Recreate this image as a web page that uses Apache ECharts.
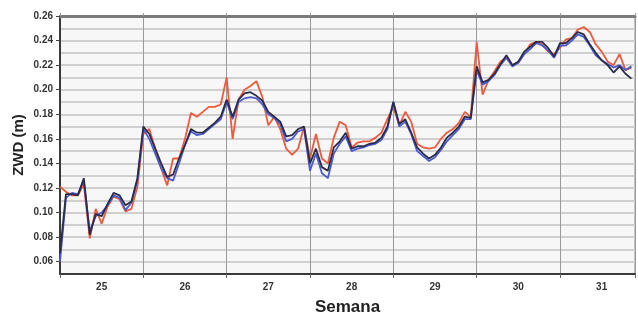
<!DOCTYPE html>
<html>
<head>
<meta charset="utf-8">
<script src="https://cdn.jsdelivr.net/npm/echarts@6/dist/echarts.min.js"></script>
<style>
  html, body { margin: 0; padding: 0; background: #ffffff; }
  #chart { width: 638px; height: 321px; }
</style>
</head>
<body>
<div id="chart"></div>
<script>
// Tiempo en días desde el inicio de la semana 25 (una muestra cada 12 h)
const dias = [
  0, 0.5, 1, 1.5, 2, 2.5, 3, 3.5, 4, 4.5, 5, 5.5, 6, 6.5,
  7, 7.5, 8, 8.5, 9, 9.5, 10, 10.5, 11, 11.5, 12, 12.5, 13, 13.5,
  14, 14.5, 15, 15.5, 16, 16.5, 17, 17.5, 18, 18.5, 19, 19.5, 20, 20.5,
  21, 21.5, 22, 22.5, 23, 23.5, 24, 24.5, 25, 25.5, 26, 26.5, 27, 27.5,
  28, 28.5, 29, 29.5, 30, 30.5, 31, 31.5, 32, 32.5, 33, 33.5, 34, 34.5,
  35, 35.5, 36, 36.5, 37, 37.5, 38, 38.5, 39, 39.5, 40, 40.5, 41, 41.5,
  42, 42.5, 43, 43.5, 44, 44.5, 45, 45.5, 46, 46.5, 47, 47.5, 48
];

// Etiquetas de semana y su posición (centro de cada semana, en días)
const semanas = ['25', '26', '27', '28', '29', '30', '31'];
const centrosSemana = [3.5, 10.5, 17.5, 24.5, 31.5, 38.5, 45.5];

// Etiquetas del eje ZWD (m)
const ticksZWD = [0.06, 0.08, 0.10, 0.12, 0.14, 0.16, 0.18, 0.20, 0.22, 0.24, 0.26];

// ZWD (m) - serie roja
const zwdRojo = [
  0.121, 0.117, 0.114, 0.114, 0.123, 0.079, 0.103, 0.091, 0.105, 0.113, 0.111, 0.101, 0.103, 0.121,
  0.164, 0.168, 0.152, 0.136, 0.122, 0.144, 0.144, 0.160, 0.181, 0.178, 0.182, 0.186, 0.186, 0.188,
  0.210, 0.160, 0.192, 0.200, 0.203, 0.207, 0.194, 0.171, 0.178, 0.168, 0.152, 0.147, 0.152, 0.170,
  0.144, 0.164, 0.144, 0.140, 0.161, 0.174, 0.171, 0.153, 0.157, 0.158, 0.158, 0.161, 0.165, 0.176,
  0.186, 0.171, 0.182, 0.174, 0.156, 0.153, 0.152, 0.153, 0.160, 0.165, 0.168, 0.173, 0.182, 0.178,
  0.239, 0.196, 0.208, 0.215, 0.223, 0.226, 0.220, 0.222, 0.229, 0.237, 0.239, 0.237, 0.231, 0.229,
  0.234, 0.241, 0.242, 0.249, 0.251, 0.247, 0.237, 0.231, 0.223, 0.220, 0.229, 0.216, 0.218
];

// ZWD (m) - serie azul
const zwdAzul = [
  0.060, 0.112, 0.116, 0.115, 0.126, 0.085, 0.097, 0.100, 0.106, 0.114, 0.112, 0.102, 0.108, 0.126,
  0.168, 0.160, 0.148, 0.136, 0.128, 0.126, 0.140, 0.155, 0.166, 0.163, 0.164, 0.168, 0.172, 0.176,
  0.190, 0.176, 0.190, 0.193, 0.194, 0.193, 0.188, 0.180, 0.177, 0.172, 0.158, 0.160, 0.166, 0.168,
  0.134, 0.148, 0.132, 0.128, 0.148, 0.156, 0.162, 0.150, 0.152, 0.153, 0.155, 0.156, 0.159, 0.168,
  0.190, 0.170, 0.174, 0.164, 0.150, 0.146, 0.142, 0.145, 0.151, 0.158, 0.163, 0.168, 0.176, 0.176,
  0.216, 0.204, 0.207, 0.212, 0.220, 0.226, 0.219, 0.222, 0.229, 0.233, 0.238, 0.236, 0.232, 0.226,
  0.236, 0.236, 0.240, 0.245, 0.243, 0.236, 0.228, 0.224, 0.221, 0.218, 0.220, 0.216, 0.219
];

// ZWD (m) - serie oscura
const zwdOscuro = [
  0.067, 0.115, 0.115, 0.114, 0.128, 0.082, 0.099, 0.097, 0.107, 0.116, 0.114, 0.106, 0.109, 0.128,
  0.170, 0.164, 0.152, 0.140, 0.129, 0.131, 0.144, 0.155, 0.168, 0.165, 0.165, 0.169, 0.173, 0.178,
  0.192, 0.178, 0.192, 0.197, 0.198, 0.195, 0.191, 0.182, 0.178, 0.174, 0.162, 0.163, 0.168, 0.170,
  0.140, 0.152, 0.137, 0.134, 0.153, 0.158, 0.165, 0.152, 0.154, 0.154, 0.156, 0.157, 0.161, 0.170,
  0.190, 0.172, 0.176, 0.165, 0.153, 0.148, 0.144, 0.147, 0.153, 0.161, 0.165, 0.170, 0.178, 0.177,
  0.219, 0.206, 0.208, 0.213, 0.221, 0.228, 0.220, 0.223, 0.231, 0.235, 0.239, 0.239, 0.234, 0.227,
  0.238, 0.238, 0.242, 0.247, 0.245, 0.237, 0.230, 0.224, 0.220, 0.214, 0.219, 0.213, 0.209
];

const pares = (valores) => dias.map((d, i) => [d, valores[i]]);

const fuente = '"Liberation Sans", Arial, sans-serif';
const chart = echarts.init(document.getElementById('chart'), null, { renderer: 'canvas' });

chart.setOption({
  animation: false,
  backgroundColor: '#ffffff',
  grid: {
    left: 60, right: 3, top: 16, bottom: 45,
    show: true,
    backgroundColor: '#f7f7f7',
    borderColor: '#8a8a8a',
    borderWidth: 1
  },
  xAxis: [
    {
      type: 'value',
      position: 'bottom',
      min: 0, max: 48.3, interval: 7,
      name: 'Semana',
      nameLocation: 'middle',
      nameGap: 25,
      nameTextStyle: { fontFamily: fuente, fontWeight: 'bold', fontSize: 17, color: '#222' },
      axisLine: { show: true, lineStyle: { color: '#3a3a3a', width: 2 } },
      axisTick: { show: true, inside: false, length: 4, lineStyle: { color: '#666', width: 1 } },
      axisLabel: {
        customValues: centrosSemana,
        formatter: (v) => semanas[centrosSemana.indexOf(v)] ?? '',
        margin: 8,
        fontFamily: fuente, fontWeight: 'bold', fontSize: 10, color: '#333'
      },
      splitLine: { show: true, lineStyle: { color: '#9a9a9a', width: 1 } }
    },
    {
      type: 'value',
      position: 'top',
      min: 0, max: 48.3, interval: 7,
      axisLine: { show: true, lineStyle: { color: '#7a7a7a', width: 3 } },
      axisTick: { show: true, inside: false, length: 3, lineStyle: { color: '#999', width: 1 } },
      axisLabel: { show: false },
      splitLine: { show: false }
    }
  ],
  yAxis: [
    {
      type: 'value',
      position: 'left',
      min: 0.05, max: 0.26, interval: 0.01,
      name: 'ZWD (m)',
      nameLocation: 'middle',
      nameGap: 34,
      nameRotate: 90,
      nameTextStyle: { fontFamily: fuente, fontWeight: 'bold', fontSize: 15, color: '#222' },
      axisLine: { show: true, lineStyle: { color: '#3a3a3a', width: 2 } },
      axisTick: { show: false },
      axisLabel: { show: false },
      splitLine: { show: true, lineStyle: { color: '#cfcfcf', width: 2 } }
    },
    {
      type: 'value',
      position: 'left',
      min: 0.05, max: 0.26, interval: 0.01,
      axisLine: { show: false },
      axisTick: {
        show: true, inside: false, length: 4,
        customValues: ticksZWD,
        lineStyle: { color: '#444', width: 1 }
      },
      axisLabel: {
        customValues: ticksZWD,
        formatter: (v) => v.toFixed(2),
        margin: 7,
        fontFamily: fuente, fontWeight: 'bold', fontSize: 10, color: '#333'
      },
      splitLine: { show: false }
    }
  ],
  series: [
    {
      name: 'rojo', type: 'line', xAxisIndex: 0, yAxisIndex: 0,
      data: pares(zwdRojo), symbol: 'none',
      lineStyle: { color: '#ee5a3c', width: 1.8 }
    },
    {
      name: 'azul', type: 'line', xAxisIndex: 0, yAxisIndex: 0,
      data: pares(zwdAzul), symbol: 'none',
      lineStyle: { color: '#4a5cd0', width: 1.8 }
    },
    {
      name: 'oscuro', type: 'line', xAxisIndex: 0, yAxisIndex: 0,
      data: pares(zwdOscuro), symbol: 'none',
      lineStyle: { color: '#2c2c4a', width: 1.8 }
    }
  ]
});
</script>
</body>
</html>
